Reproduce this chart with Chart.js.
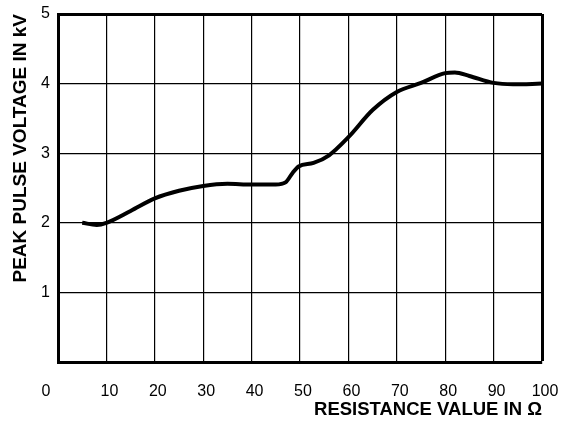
<!DOCTYPE html>
<html>
<head>
<meta charset="utf-8">
<script src="https://cdn.jsdelivr.net/npm/chart.js@4.4.0/dist/chart.umd.min.js"></script>
<style>
  html, body { margin: 0; padding: 0; background: #fff; }
  #wrap { width: 563px; height: 422px; }
</style>
</head>
<body>
<div id="wrap"><canvas id="pulse"></canvas></div>
<script>
// curve
let resistance = [5, 8, 10, 15, 20, 25, 30, 35, 40, 45, 47, 48.5, 49.7, 52.8, 56, 60, 65, 70, 75, 80, 82, 85, 90, 94, 100];
let voltage = [2.0, 1.97, 2.0, 2.17, 2.35, 2.46, 2.53, 2.56, 2.55, 2.55, 2.58, 2.72, 2.81, 2.86, 2.97, 3.23, 3.62, 3.88, 4.01, 4.15, 4.16, 4.11, 4.01, 3.99, 4.0];

let xTicks = [0, 10, 20, 30, 40, 50, 60, 70, 80, 90, 100];
let yTicks = [1, 2, 3, 4, 5];

let points = resistance.map((r, i) => ({ x: r, y: voltage[i] }));

let font = "'Liberation Sans', Arial, Helvetica, sans-serif";

// "0" on the x axis sits left of the corner in the original
let zeroLabel = {
    id: "zeroLabel",
    afterDraw(chart) {
        let c = chart.ctx;
        let xs = chart.scales.x;
        c.save();
        c.font = "16px " + font;
        c.fillStyle = "#000";
        c.textAlign = "center";
        c.textBaseline = "middle";
        c.fillText("0", xs.getPixelForValue(0) - 12, chart.chartArea.bottom + 30);
        c.restore();
    }
};

let ctx = document.getElementById("pulse").getContext("2d");

let pulseChart = new Chart(ctx, {
    type: "scatter",
    data: {
        datasets: [{
            data: points,
            showLine: true,
            borderColor: "#000",
            borderWidth: 4,
            pointRadius: 0,
            tension: 0.4,
            cubicInterpolationMode: "monotone",
            fill: false
        }]
    },
    options: {
        responsive: true,
        maintainAspectRatio: false,
        animation: false,
        layout: { padding: { top: 14, right: 21, left: 0, bottom: 0 } },
        plugins: {
            legend: { display: false },
            tooltip: { enabled: false }
        },
        scales: {
            x: {
                type: "linear",
                min: 0,
                max: 100,
                afterBuildTicks: s => { s.ticks = xTicks.map(v => ({ value: v })); },
                afterFit: s => { s.height = 60; s.paddingLeft = 0; s.paddingRight = 0; },
                border: { display: true, color: "#000", width: 3 },
                grid: {
                    drawTicks: false,
                    color: "#000",
                    lineWidth: c => (c.tick && c.tick.value === 100 ? 3 : 1.2)
                },
                ticks: {
                    color: "#000",
                    padding: 20,
                    labelOffset: 3,
                    font: { family: font, size: 16 },
                    callback: v => (v === 0 ? "" : v)
                },
                title: {
                    display: true,
                    text: "RESISTANCE VALUE IN Ω",
                    align: "end",
                    color: "#000",
                    font: { family: font, size: 18.5, weight: "bold" },
                    padding: { top: 0, bottom: 1 }
                }
            },
            y: {
                type: "linear",
                min: 0,
                max: 5,
                afterBuildTicks: s => { s.ticks = [0].concat(yTicks).map(v => ({ value: v })); },
                afterFit: s => { s.width = 58; s.paddingTop = 0; s.paddingBottom = 0; },
                border: { display: true, color: "#000", width: 3 },
                grid: {
                    drawTicks: false,
                    color: "#000",
                    lineWidth: c => (c.tick && c.tick.value === 5 ? 3 : 1.2)
                },
                ticks: {
                    color: "#000",
                    padding: 8,
                    font: { family: font, size: 16 },
                    callback: v => (v === 0 ? "" : v)
                },
                title: {
                    display: true,
                    text: "PEAK PULSE VOLTAGE IN kV",
                    align: "end",
                    color: "#000",
                    font: { family: font, size: 19, weight: "bold" },
                    padding: { top: 9, bottom: 0 }
                }
            }
        }
    },
    plugins: [zeroLabel]
});
</script>
</body>
</html>
